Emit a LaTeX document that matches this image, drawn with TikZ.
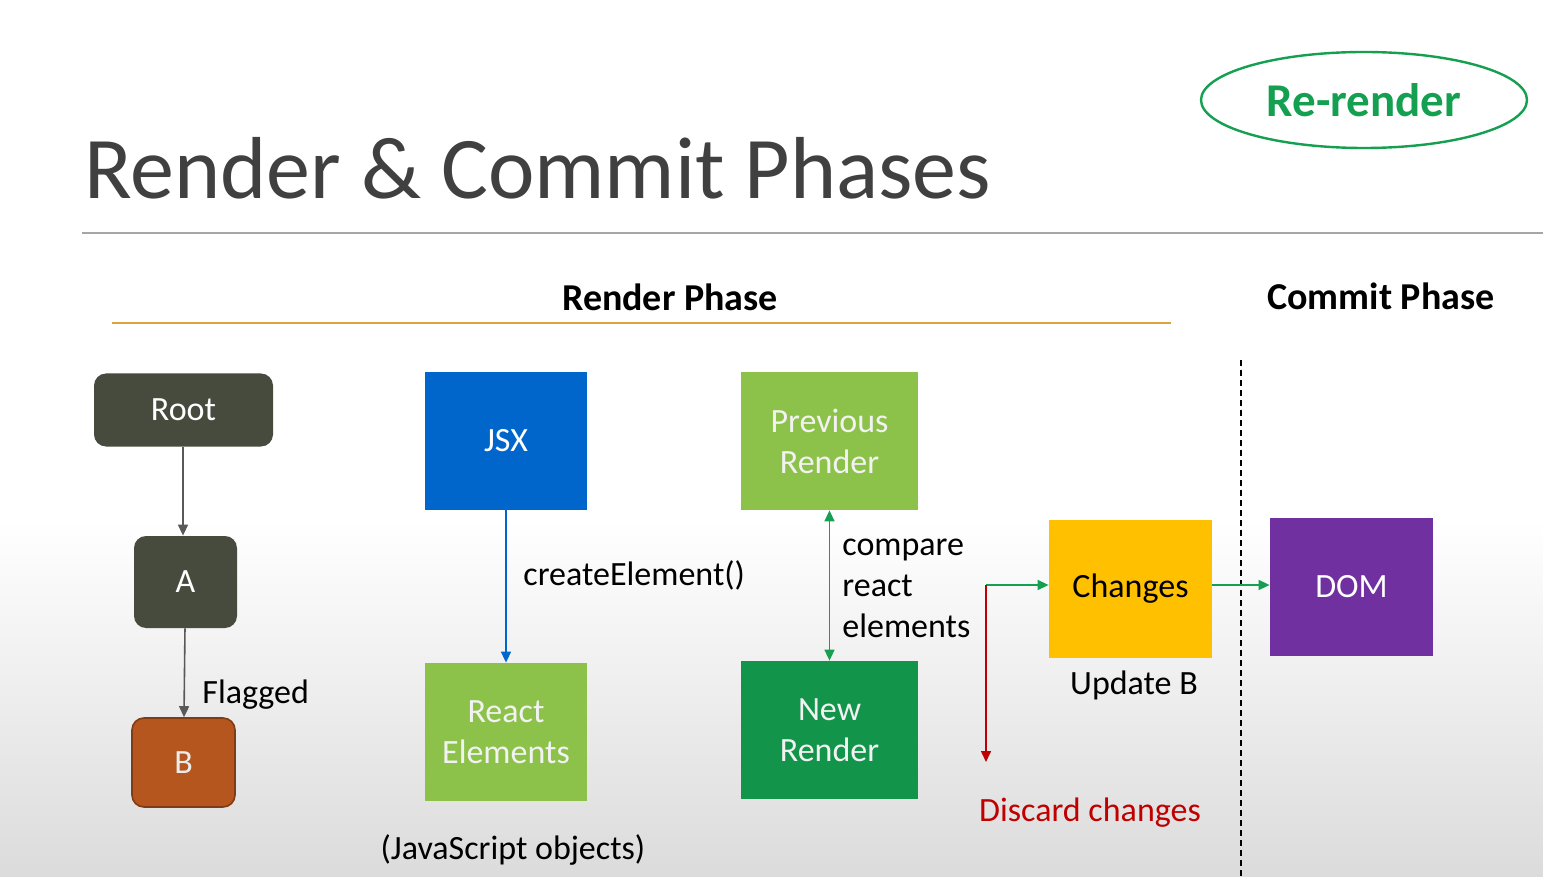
\documentclass[tikz,border=0pt]{standalone}
\usepackage{fontspec}
\setmainfont{Carlito}
\usetikzlibrary{arrows.meta, positioning, calc, shapes.geometric}
\definecolor{titlegray}{HTML}{404040}
\definecolor{rulegray}{HTML}{A6A6A6}
\definecolor{phasegold}{HTML}{D9A441}
\definecolor{olivedark}{HTML}{474B3E}
\definecolor{rustred}{HTML}{B5561F}
\definecolor{jsxblue}{HTML}{0066CC}
\definecolor{leafgreen}{HTML}{8DC24A}
\definecolor{deepgreen}{HTML}{12954A}
\definecolor{ambery}{HTML}{FFC000}
\definecolor{dompurple}{HTML}{7030A0}
\definecolor{linkgreen}{HTML}{14A050}
\definecolor{discardred}{HTML}{C00000}
\definecolor{arrowgray}{HTML}{595959}

\begin{document}
\begin{tikzpicture}[x=0.5pt, y=-0.5pt,
  box/.style={draw=none, inner sep=0pt, align=center, font=\fontsize{17}{20.5}\selectfont},
  treebox/.style={box, rounded corners=6pt, fill=olivedark, text=white},
  lbl/.style={font=\fontsize{17}{20.5}\selectfont, inner sep=1pt},
  link/.style={line width=0.8pt, -{Triangle[length=5.5pt, width=5pt]}}]

% Background -- white at the top, greying towards the bottom
\fill[white] (0,0) rectangle (1543,877);
\shade[top color=white, bottom color=gray!28] (0,520) rectangle (1543,877);
\useasboundingbox (0,0) rectangle (1543,877);

% Title and rule
\node[anchor=base west, text=titlegray, font=\fontsize{44}{48}\selectfont, inner sep=0pt] (title) at (84,199) {Render \& Commit Phases};
\draw[rulegray, line width=0.6pt] (82,233) -- (1543,233);

% Re-render badge
\node[ellipse, draw=linkgreen, line width=1.2pt, minimum width=163pt, minimum height=48pt,
  text=linkgreen, font=\fontsize{23.5}{26}\selectfont\bfseries] (rerender) at (1364,100) {Re-render};

% Phase headings
\node[font=\fontsize{19}{22}\selectfont\bfseries] (renderphase) at (670,297) {Render Phase};
\node[font=\fontsize{19}{22}\selectfont\bfseries] (commitphase) at (1381,296) {Commit Phase};
\draw[phasegold, line width=1.2pt] (112,323) -- (1171,323);
\draw[black, line width=0.9pt, dash pattern=on 3pt off 2pt] (1241,360) -- (1241,877);

% Component tree
\node[treebox, minimum width=89.5pt, minimum height=36.5pt] (root) at (183.5,410) {Root};
\node[treebox, minimum width=51.5pt, minimum height=46pt] (a) at (185.5,582) {A};
\node[box, rounded corners=6pt, fill=rustred, draw=rustred!70!black, line width=0.8pt,
  text=white!85!gray, minimum width=51.5pt, minimum height=44.5pt] (b) at (183.5,762.5) {B};
\draw[link, arrowgray] (root.south -| 183,0) -- (a.north -| 183,0);
\draw[link, arrowgray] (a) -- (b);
\node[lbl, anchor=west] (flagged) at (200,695) {Flagged};

% JSX to elements
\node[box, fill=jsxblue, text=white, minimum width=81pt, minimum height=69pt] (jsx) at (506,441) {JSX};
\node[box, fill=leafgreen, text=white!90!gray, minimum width=81pt, minimum height=69pt] (elements) at (506,732) {React\\Elements};
\draw[link, jsxblue] (jsx) -- (elements);
\node[lbl, anchor=west] (create) at (521,575) {createElement()};
\node[lbl] (jsobjects) at (513,850) {(JavaScript objects)};

% Previous vs new render
\node[box, fill=leafgreen, text=white!90!gray, minimum width=88.5pt, minimum height=69pt] (prev) at (829.5,441) {Previous\\Render};
\node[box, fill=deepgreen, text=white!90!gray, minimum width=88.5pt, minimum height=69pt] (new) at (829.5,730) {New\\Render};
\draw[linkgreen, line width=0.8pt, {Triangle[length=5.5pt, width=5pt]}-{Triangle[length=5.5pt, width=5pt]}] (prev) -- (new);
\node[lbl, anchor=west, align=left] (compare) at (840,588) {compare\\react\\elements};

% Changes and commit
\node[box, fill=ambery, text=black, minimum width=81.5pt, minimum height=69pt] (changes) at (1130.5,589) {Changes};
\node[lbl] (updateb) at (1134,685) {Update B};
\node[box, fill=dompurple, text=white, minimum width=81.5pt, minimum height=69pt] (dom) at (1351.5,587) {DOM};
\coordinate (split) at (986,585);
\coordinate (discard) at (986,762);
\draw[link, linkgreen] (split) -- (split -| changes.west);
\draw[link, discardred] (split) -- (discard);
\draw[link, linkgreen] (changes.east |- split) -- (dom.west |- split);
\node[lbl, text=discardred] (discardlbl) at (1090,813) {Discard changes};

\end{tikzpicture}
\end{document}
